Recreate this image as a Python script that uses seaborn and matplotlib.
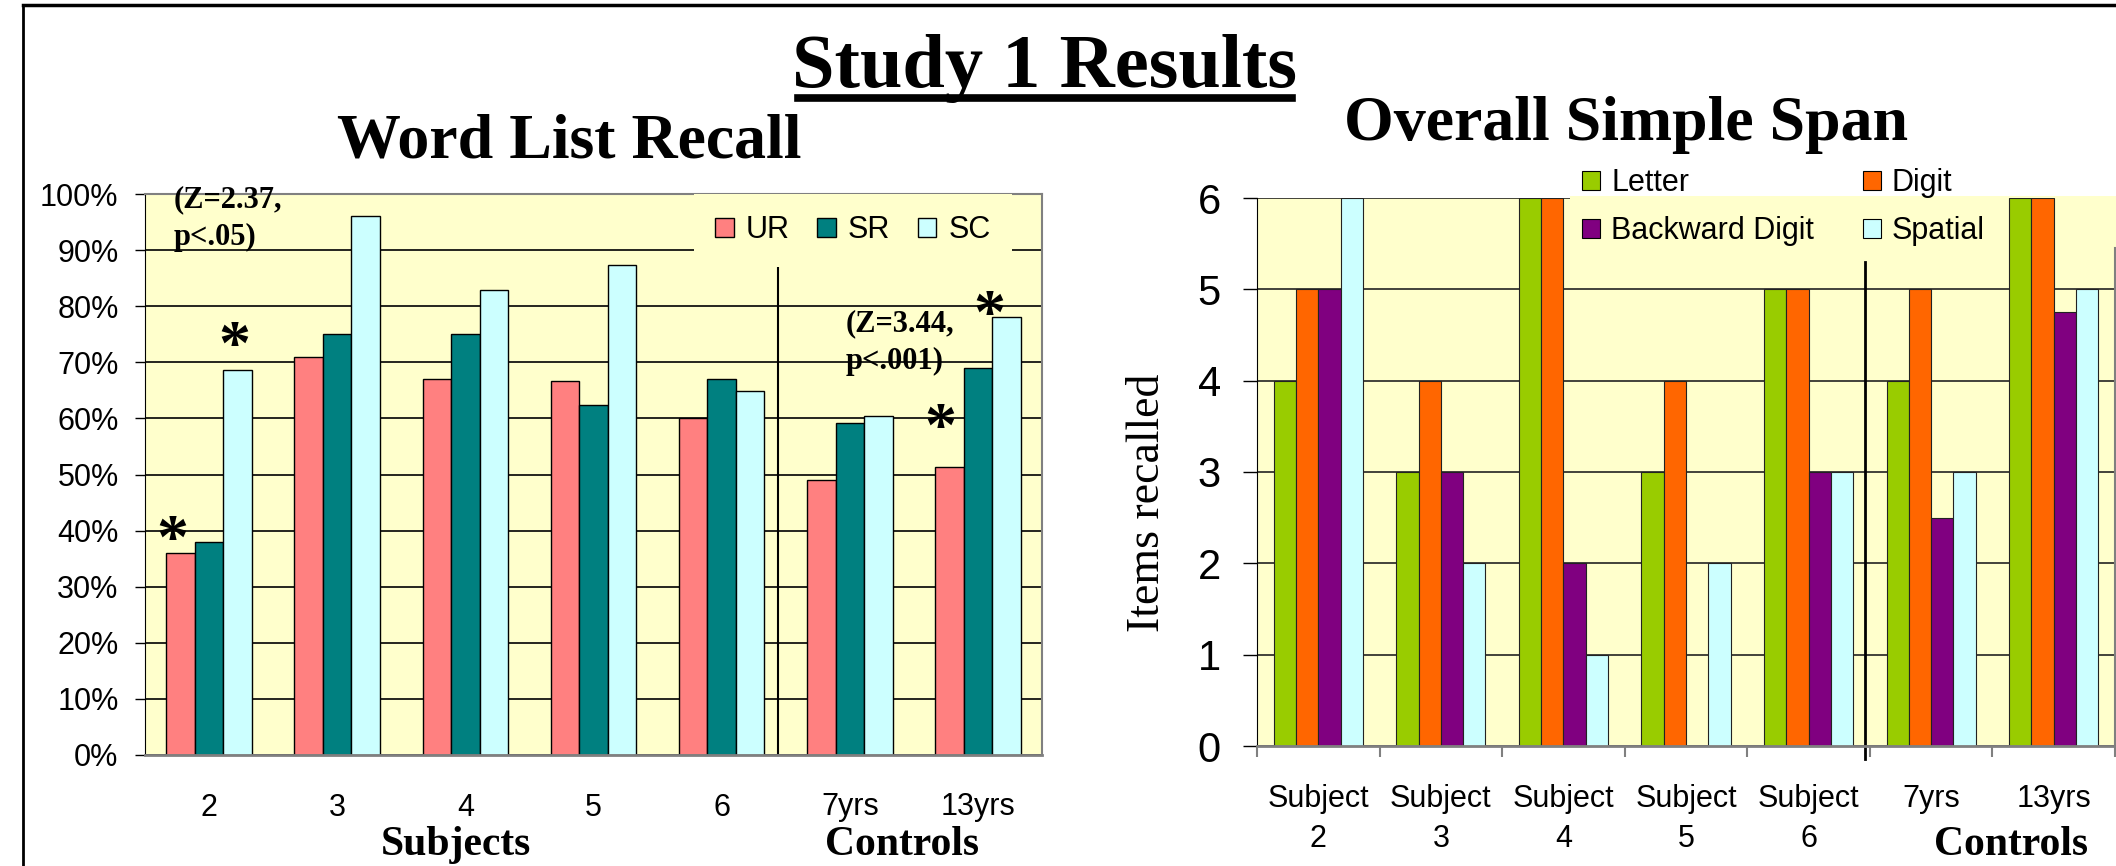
import pandas as pd
import matplotlib.pyplot as plt
import seaborn as sns
from matplotlib.lines import Line2D
from matplotlib.patches import Rectangle

W, H = 2116, 866

# Word list recall, percent correct
recall_groups = ['2', '3', '4', '5', '6', '7yrs', '13yrs']
recall_conds = ['UR', 'SR', 'SC']
ur = [36, 71, 67, 66.7, 60, 49, 51.3]
sr = [38, 75, 75, 62.4, 67, 59.1, 69]
sc = [68.7, 96, 82.8, 87.3, 64.8, 60.4, 78]

# Overall simple span, items recalled
span_groups = ['Subject\n2', 'Subject\n3', 'Subject\n4', 'Subject\n5', 'Subject\n6', '7yrs', '13yrs']
span_tasks = ['Letter', 'Digit', 'Backward Digit', 'Spatial']
letter = [4, 3, 6, 3, 5, 4, 6]
digit = [5, 4, 6, 4, 5, 5, 6]
backward = [5, 3, 2, None, 3, 2.5, 4.75]
spatial = [6, 2, 1, 2, 3, 3, 5]

recall_colors = ['#FF8080', '#008080', '#CCFFFF']
span_colors = ['#99CC00', '#FF6600', '#800080', '#CCFFFF']
BG = '#FFFFCC'

plt.rcParams['font.family'] = ['Liberation Sans', 'DejaVu Sans']
SERIF = 'Liberation Serif'

df1 = pd.DataFrame({
    'group': recall_groups * 3,
    'cond': [c for c in recall_conds for _ in recall_groups],
    'pct': ur + sr + sc,
})
df2 = pd.DataFrame({
    'group': span_groups * 4,
    'task': [t for t in span_tasks for _ in span_groups],
    'items': letter + digit + backward + spatial,
}).dropna()

fig = plt.figure(figsize=(W / 100, H / 100), dpi=100)


def px_text(x, y, s, **kw):
    return fig.text(x / W, 1 - y / H, s, **kw)


# ---------------- left chart ----------------
ax1 = fig.add_axes([145 / W, 1 - 755 / H, 897 / W, 561 / H])
sns.barplot(data=df1, x='group', y='pct', hue='cond', order=recall_groups,
            hue_order=recall_conds, palette=recall_colors, saturation=1,
            width=0.667, edgecolor='black', linewidth=1, errorbar=None, ax=ax1)
ax1.set_facecolor(BG)
ax1.set_xlim(-0.5, 6.5)
ax1.set_ylim(0, 100)
ax1.set_yticks(range(0, 101, 10))
ax1.set_yticklabels([f'{v}%' for v in range(0, 101, 10)])
ax1.set_xlabel('')
ax1.set_ylabel('')
ax1.set_axisbelow(True)
ax1.yaxis.grid(True, color='black', lw=1.2)
ax1.tick_params(axis='y', length=7, width=1, pad=12, labelsize=22)
ax1.tick_params(axis='x', length=0, pad=27, labelsize=22)
ax1.spines['left'].set_color('black')
for s in ['bottom', 'right', 'top']:
    ax1.spines[s].set_color('#808080')
    ax1.spines[s].set_linewidth(1.5)
ax1.spines['bottom'].set_linewidth(2)
ax1.axvline(4.44, ymin=0, ymax=0.88, color='black', lw=1.5)

h, l = ax1.get_legend_handles_labels()
for p in h:
    p.set_edgecolor('black')
ax1.legend(h, l, ncol=3, loc='upper right', bbox_to_anchor=((1012 - 145) / 897, 1.0),
           frameon=True, facecolor=BG, edgecolor='none', framealpha=1, fancybox=False,
           fontsize=22, handlelength=0.6, handleheight=0.6, handletextpad=0.4,
           columnspacing=0.9, borderpad=0.7, borderaxespad=0)

ax1.text(-0.28, 101.6, '(Z=2.37,\np<.05)', ha='left', va='top', family=SERIF,
         weight='bold', fontsize=22, linespacing=1.4, zorder=6)
ax1.text(4.97, 79.5, '(Z=3.44,\np<.001)', ha='left', va='top', family=SERIF,
         weight='bold', fontsize=22, linespacing=1.4, zorder=6)
for x, y in [(-0.29, 40.6), (0.20, 75.2), (6.09, 80.7), (5.71, 60.6)]:
    ax1.annotate('*', xy=(x, y), xytext=(0, -22), textcoords='offset points',
                 ha='center', va='baseline', family=SERIF, weight='bold',
                 fontsize=46, zorder=6)

# ---------------- right chart ----------------
ax2 = fig.add_axes([1257 / W, 1 - 746 / H, 858 / W, 548 / H])
sns.barplot(data=df2, x='group', y='items', hue='task', order=span_groups,
            hue_order=span_tasks, palette=span_colors, saturation=1,
            width=0.727, edgecolor='#222222', linewidth=0.8, errorbar=None, ax=ax2)
ax2.set_facecolor(BG)
ax2.set_xlim(-0.5, 6.5)
ax2.set_ylim(0, 6)
ax2.set_yticks(range(0, 7))
ax2.set_xlabel('')
ax2.set_ylabel('')
ax2.set_axisbelow(True)
ax2.yaxis.grid(True, color='#222222', lw=1.2)
ax2.tick_params(axis='y', length=10, width=1, pad=16, labelsize=30)
ax2.tick_params(axis='x', which='major', length=0, pad=27, labelsize=22)
ax2.set_xticks([i - 0.5 for i in range(8)], minor=True)
ax2.tick_params(axis='x', which='minor', length=8, width=1.5, color='#808080')
for t in ax2.get_xticklabels():
    t.set_linespacing(1.45)
ax2.spines['left'].set_color('black')
ax2.spines['top'].set_visible(False)
for s in ['bottom', 'right']:
    ax2.spines[s].set_color('#808080')
    ax2.spines[s].set_linewidth(1.5)
ax2.spines['bottom'].set_linewidth(2)
ax2.spines['right'].set_bounds(0, 5.45)
ax2.axvline(4.46, ymin=-0.024, ymax=0.883, color='black', lw=2, clip_on=False)
ax2.add_patch(Rectangle((0.365, 0.9), 0.64, 0.103, transform=ax2.transAxes,
                        facecolor=BG, edgecolor='none', zorder=0.9, clip_on=False))

h, l = ax2.get_legend_handles_labels()
for p in h:
    p.set_edgecolor('black')
# legend fills column-wise: put Letter / Backward Digit in column one
order = [0, 2, 1, 3]
ax2.legend([h[i] for i in order], [l[i] for i in order], ncol=2, loc='upper left',
           bbox_to_anchor=(1582 / W, 1 - 168 / H),
           bbox_transform=fig.transFigure, frameon=False, fontsize=22,
           handlelength=0.6, handleheight=0.6, handletextpad=0.35,
           columnspacing=1.6, labelspacing=0.6, borderpad=0, borderaxespad=0)

# ---------------- titles and labels ----------------
px_text(1045, 87, 'Study 1 Results', ha='center', va='baseline', family=SERIF,
        weight='bold', fontsize=55)
fig.add_artist(Line2D([798 / W, 1292 / W], [1 - 98 / H] * 2, color='black', lw=5.5))
px_text(569, 157, 'Word List Recall', ha='center', va='baseline', family=SERIF,
        weight='bold', fontsize=46)
px_text(1626, 140, 'Overall Simple Span', ha='center', va='baseline', family=SERIF,
        weight='bold', fontsize=46)
px_text(456, 855, 'Subjects', ha='center', va='baseline', family=SERIF,
        weight='bold', fontsize=30)
px_text(902, 855, 'Controls', ha='center', va='baseline', family=SERIF,
        weight='bold', fontsize=30)
px_text(2011, 855, 'Controls', ha='center', va='baseline', family=SERIF,
        weight='bold', fontsize=30)
px_text(1148, 503, 'Items recalled', ha='center', va='center', rotation=90,
        family=SERIF, fontsize=33)

# slide border
fig.add_artist(Line2D([23 / W, 1], [1 - 5 / H] * 2, color='black', lw=2.5))
fig.add_artist(Line2D([23 / W, 23 / W], [0, 1 - 5 / H], color='black', lw=2))

fig.savefig('out.png', dpi=100)
